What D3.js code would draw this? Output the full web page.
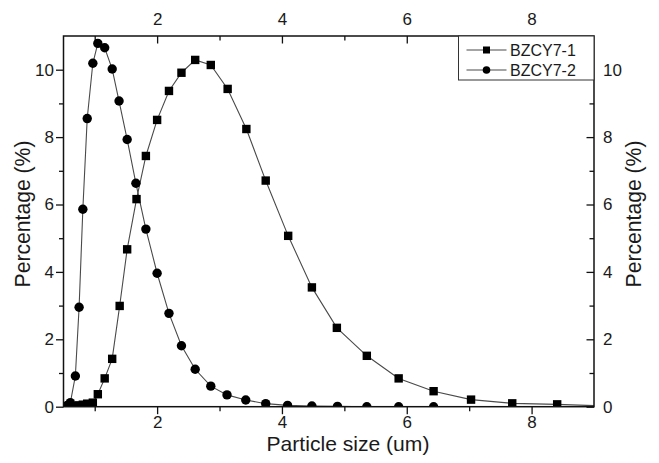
<!DOCTYPE html>
<html>
<head>
<meta charset="utf-8">
<script src="https://cdn.jsdelivr.net/npm/d3@7"></script>
<style>
  body { margin: 0; background: #fff; }
  svg text { font-family: "Liberation Sans", Arial, sans-serif; fill: #1a1a1a; }
</style>
</head>
<body>
<div id="chart"></div>
<script>
// data (particle size in um, percentage in %)
var sizes1 = [0.69, 0.75, 0.81, 0.88, 0.97, 1.05, 1.16, 1.28, 1.40, 1.52, 1.67, 1.82, 2.00, 2.19, 2.39, 2.61, 2.86, 3.13, 3.43, 3.74, 4.10, 4.48, 4.88, 5.36, 5.87, 6.43, 7.03, 7.69, 8.41, 9.21];
var pct1   = [0.02, 0.04, 0.06, 0.09, 0.12, 0.37, 0.84, 1.42, 2.99, 4.67, 6.16, 7.44, 8.51, 9.37, 9.91, 10.29, 10.14, 9.43, 8.24, 6.71, 5.07, 3.54, 2.34, 1.51, 0.84, 0.46, 0.21, 0.10, 0.07, 0.02];

var sizes2 = [0.56, 0.61, 0.69, 0.75, 0.81, 0.88, 0.97, 1.05, 1.16, 1.28, 1.39, 1.52, 1.66, 1.82, 2.00, 2.19, 2.39, 2.61, 2.86, 3.12, 3.42, 3.74, 4.09, 4.48, 4.89, 5.36, 5.87, 6.43];
var pct2   = [0.04, 0.12, 0.91, 2.95, 5.86, 8.55, 10.19, 10.78, 10.65, 10.02, 9.07, 7.93, 6.63, 5.27, 3.96, 2.77, 1.81, 1.11, 0.61, 0.35, 0.20, 0.09, 0.04, 0.02, 0.01, 0.00, 0.00, 0.00];

var seriesNames = ["BZCY7-1", "BZCY7-2"];
var xMajor = [2, 4, 6, 8];
var xMinor = [1, 3, 5, 7];
var yMajor = [0, 2, 4, 6, 8, 10];
var yMinor = [1, 3, 5, 7, 9];

var width = 659, height = 463;
var margin = {left: 63.5, top: 36, right: 65, bottom: 56.3};

var svg = d3.select("#chart").append("svg")
    .attr("width", width)
    .attr("height", height);

// 1. scales
var xScale = d3.scaleLinear().domain([0.5, 9]).range([margin.left, width - margin.right]);
var yScale = d3.scaleLinear().domain([0, 11]).range([height - margin.bottom, margin.top]);

var x0 = margin.left, x1 = width - margin.right;
var y0 = height - margin.bottom, y1 = margin.top;

svg.append("clipPath").attr("id", "plotclip")
  .append("rect")
    .attr("x", x0).attr("y", y1)
    .attr("width", x1 - x0).attr("height", y0 - y1);

// scale a text's font so it spans the width measured on the figure
function fitText(sel, target) {
  var len = sel.node().getComputedTextLength();
  var fs = parseFloat(sel.style("font-size"));
  sel.style("font-size", (fs * target / len) + "px");
}

// 2. axes (ticks on top/right point the same way as bottom/left)
var tickFont = "17px";

function styleAxis(g) {
  g.select(".domain").remove();
  g.selectAll("line").attr("stroke", "#111").attr("stroke-width", 1.3);
  g.selectAll("text").style("font-size", tickFont).attr("fill", "#1a1a1a");
}

svg.append("g").attr("transform", `translate(0,${y0})`)
  .call(d3.axisBottom(xScale).tickValues(xMajor).tickSizeOuter(0).tickSize(7.5).tickPadding(1.8).tickFormat(d3.format("d")))
  .call(styleAxis);
svg.append("g").attr("transform", `translate(0,${y0})`)
  .call(d3.axisBottom(xScale).tickValues(xMinor).tickSizeOuter(0).tickSize(4.5).tickFormat(""))
  .call(styleAxis);

svg.append("g").attr("transform", `translate(0,${y1})`)
  .call(d3.axisTop(xScale).tickValues(xMajor).tickSizeOuter(0).tickSizeInner(-7.5).tickPadding(11).tickFormat(d3.format("d")))
  .call(styleAxis);
svg.append("g").attr("transform", `translate(0,${y1})`)
  .call(d3.axisTop(xScale).tickValues(xMinor).tickSizeOuter(0).tickSizeInner(-4.5).tickFormat(""))
  .call(styleAxis);

svg.append("g").attr("transform", `translate(${x0},0)`)
  .call(d3.axisLeft(yScale).tickValues(yMajor).tickSizeOuter(0).tickSize(7.5).tickPadding(2).tickFormat(d3.format("d")))
  .call(styleAxis);
svg.append("g").attr("transform", `translate(${x0},0)`)
  .call(d3.axisLeft(yScale).tickValues(yMinor).tickSizeOuter(0).tickSize(4.5).tickFormat(""))
  .call(styleAxis);

svg.append("g").attr("transform", `translate(${x1},0)`)
  .call(d3.axisRight(yScale).tickValues(yMajor).tickSizeOuter(0).tickSizeInner(-7.5).tickPadding(9).tickFormat(d3.format("d")))
  .call(styleAxis);
svg.append("g").attr("transform", `translate(${x1},0)`)
  .call(d3.axisRight(yScale).tickValues(yMinor).tickSizeOuter(0).tickSizeInner(-4.5).tickFormat(""))
  .call(styleAxis);

// 3. lines and markers
var data1 = sizes1.map(function(s, i){ return {x: s, y: pct1[i]}; });
var data2 = sizes2.map(function(s, i){ return {x: s, y: pct2[i]}; });

var line = d3.line().x(d => xScale(d.x)).y(d => yScale(d.y));

var plot = svg.append("g").attr("clip-path", "url(#plotclip)");

plot.append("path").datum(data1)
    .attr("d", line).attr("fill", "none").attr("stroke", "#4a4a4a").attr("stroke-width", 1.1);
plot.append("path").datum(data2)
    .attr("d", line).attr("fill", "none").attr("stroke", "#4a4a4a").attr("stroke-width", 1.1);

var sq = 8.4;
plot.selectAll("rect.sq").data(data1).enter().append("rect")
    .attr("class", "sq")
    .attr("x", d => xScale(d.x) - sq/2)
    .attr("y", d => yScale(d.y) - sq/2)
    .attr("width", sq).attr("height", sq)
    .attr("fill", "#000");

plot.selectAll("circle.ci").data(data2).enter().append("circle")
    .attr("class", "ci")
    .attr("cx", d => xScale(d.x))
    .attr("cy", d => yScale(d.y))
    .attr("r", 4.7)
    .attr("fill", "#000");

// 4. frame
svg.append("rect")
    .attr("x", x0).attr("y", y1)
    .attr("width", x1 - x0).attr("height", y0 - y1)
    .attr("fill", "none").attr("stroke", "#111").attr("stroke-width", 1.5);

// 5. legend
var lg = svg.append("g");
lg.append("rect")
    .attr("x", 458.5).attr("y", y1)
    .attr("width", x1 - 458.5).attr("height", 44)
    .attr("fill", "#fff").attr("stroke", "#333").attr("stroke-width", 1);

seriesNames.forEach(function(name, i) {
  var ly = 50 + i * 20;
  lg.append("line")
      .attr("x1", 466.5).attr("x2", 506.5).attr("y1", ly).attr("y2", ly)
      .attr("stroke", "#4a4a4a").attr("stroke-width", 1.1);
  if (i === 0) {
    lg.append("rect").attr("x", 486.5 - 3.5).attr("y", ly - 3.5).attr("width", 7).attr("height", 7).attr("fill", "#000");
  } else {
    lg.append("circle").attr("cx", 486.5).attr("cy", ly).attr("r", 3.8).attr("fill", "#000");
  }
  lg.append("text")
      .attr("x", 510).attr("y", ly + 5.5)
      .style("font-size", "16px")
      .text(name);
});

// 6. axis titles
var xTitle = svg.append("text")
    .attr("x", 348).attr("y", 450.5)
    .attr("text-anchor", "middle")
    .style("font-size", "20px")
    .text("Particle size (um)");
fitText(xTitle, 163);

var yTitleL = svg.append("text")
    .attr("transform", "translate(30,214) rotate(-90)")
    .attr("text-anchor", "middle")
    .style("font-size", "20px")
    .text("Percentage (%)");
fitText(yTitleL, 147);

var yTitleR = svg.append("text")
    .attr("transform", "translate(641,214) rotate(-90)")
    .attr("text-anchor", "middle")
    .style("font-size", "20px")
    .text("Percentage (%)");
fitText(yTitleR, 147);
</script>
</body>
</html>
